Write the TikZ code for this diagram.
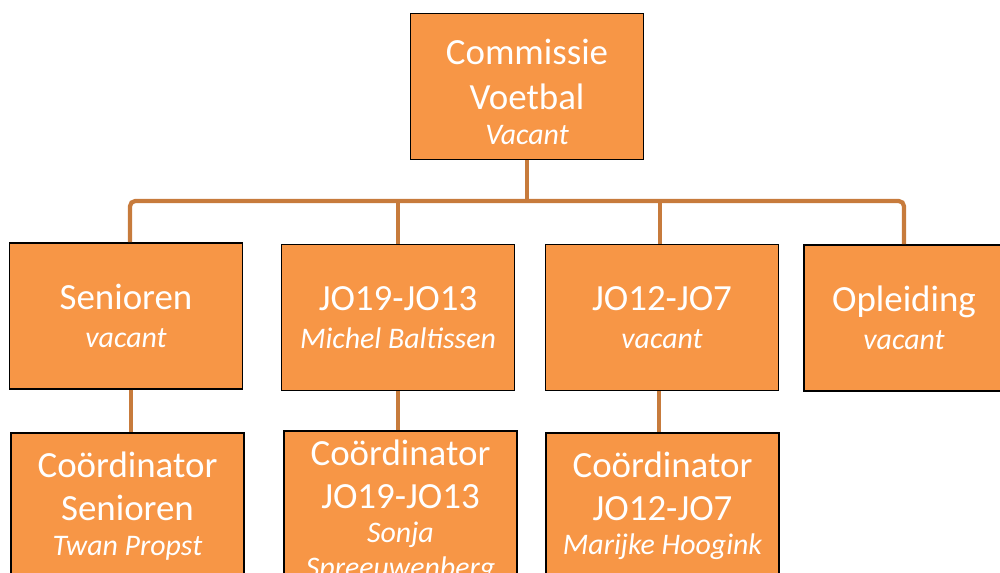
\documentclass[tikz,border=0pt]{standalone}
\usepackage{fontspec}
\setmainfont{Carlito}
\definecolor{boxfill}{HTML}{F79646}
\definecolor{linkcol}{HTML}{C77B3C}
\newcommand{\who}[1]{{\fontsize{17}{20}\selectfont\itshape #1}}

\begin{document}
\begin{tikzpicture}[x=0.02cm, y=-0.02cm,
    box/.style={draw=black, line width=1pt, fill=boxfill, text=white, align=center,
        minimum width=4.66cm, minimum height=2.92cm, inner sep=2pt,
        font=\fontsize{21}{24.5}\selectfont},
    link/.style={draw=linkcol, line width=2.4pt}]
    \useasboundingbox (0,0) rectangle (1000,573);
    % top
    \node[box, font=\fontsize{21}{25.6}\selectfont] at (527,86.5) (com) {\\[-5pt]Commissie\\Voetbal\\[-6pt]\who{Vacant}};
    % second row
    \node[box] at (126,316) (sen) {Senioren\\[-3pt]\who{vacant}};
    \node[box] at (398,317.5) (jo19) {JO19-JO13\\[-3pt]\who{Michel Baltissen}};
    \node[box] at (662,317.5) (jo12) {JO12-JO7\\[-3pt]\who{vacant}};
    \node[box, minimum width=4cm] at (904,318) (opl) {Opleiding\\[-3pt]\who{vacant}};
    % coordinators
    \node[box] at (127.5,506) (csen) {Co\"ordinator\\Senioren\\[-5pt]\who{Twan Propst}};
    \node[box, minimum height=3.2cm] at (400.5,511) (cjo19) {Co\"ordinator\\JO19-JO13\\[-5pt]\who{Sonja}\\[-5pt]\who{Spreeuwenberg}};
    \node[box] at (662.5,506) (cjo12) {Co\"ordinator\\JO12-JO7\\[-5pt]\who{Marijke Hoogink}};
    % connectors
    \coordinate (bar) at (527,201);
    \draw[link] (com.south) -- (bar);
    \draw[link, rounded corners=3] ([xshift=0.08cm]sen.north) |- (bar) -| (opl.north);
    \draw[link] (jo19.north) -- (jo19.north |- bar);
    \draw[link] ([xshift=-0.04cm]jo12.north) -- ([xshift=-0.04cm]jo12.north |- bar);
    \draw[link] ([xshift=0.1cm]sen.south) -- ([xshift=0.1cm]sen.south |- csen.north);
    \draw[link] (jo19.south) -- (jo19.south |- cjo19.north);
    \draw[link] ([xshift=-0.06cm]jo12.south) -- ([xshift=-0.06cm]jo12.south |- cjo12.north);
\end{tikzpicture}
\end{document}
